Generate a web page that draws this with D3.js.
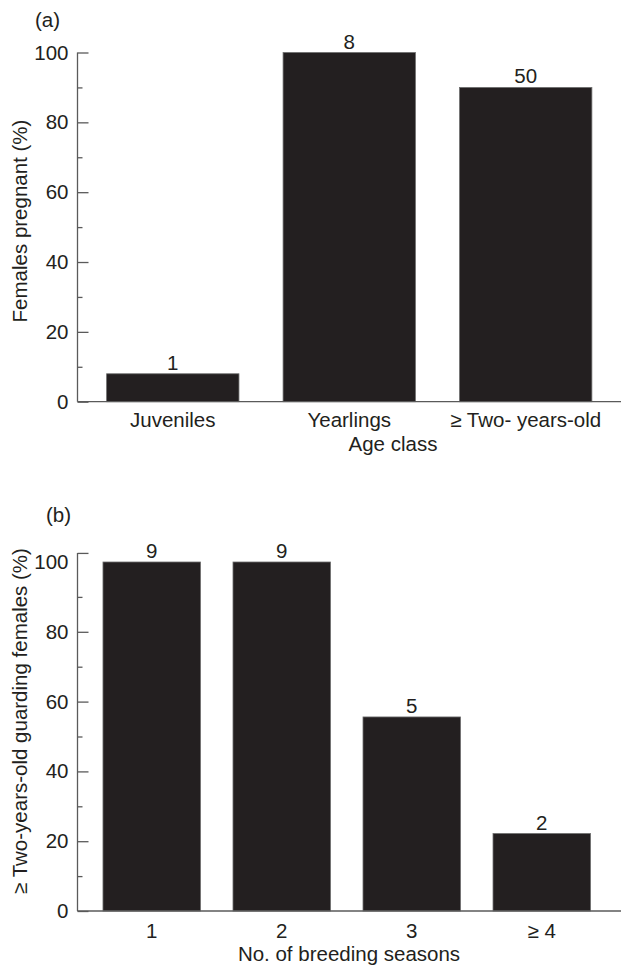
<!DOCTYPE html>
<html lang="en">
<head>
<meta charset="UTF-8">
<title>Pregnancy and guarding</title>
<script src="https://cdn.jsdelivr.net/npm/d3@7"></script>
<style>
  body { margin: 0; background: #fff; }
  svg text { font-family: "Liberation Sans", Arial, sans-serif; font-size: 20.5px; fill: #231f20; }
  .axis path, .axis line { stroke: #5a5a5a; stroke-width: 1.3; }
  .bar { fill: #231f20; stroke: #6e6e6e; stroke-width: 0.8; }
</style>
</head>
<body>
<script>
// panel (a)
const ageClasses = ["Juveniles", "Yearlings", "\u2265 Two- years-old"]
const pregnantPct = [8, 100, 90]
const pregnantN = [1, 8, 50]

// panel (b)
const seasons = ["1", "2", "3", "\u2265 4"]
const guardingPct = [100, 100, 55.6, 22.2]
const guardingN = [9, 9, 5, 2]

const majorTicks = [0, 20, 40, 60, 80, 100]
const minorTicks = [10, 30, 50, 70, 90]

const W = 621, H = 966
const svg = d3.select("body").append("svg").attr("width", W).attr("height", H)

function panel(opts) {
    const g = svg.append("g")
    const x = d3.scaleBand().domain(opts.cats).range(opts.xRange)
        .paddingInner(0.25).paddingOuter(opts.outer)
    const y = d3.scaleLinear().domain([0, 100]).range(opts.yRange)
    const axisX = opts.xRange[0]

    // minor ticks
    g.append("g").attr("class", "axis")
        .attr("transform", `translate(${axisX},0)`)
        .call(d3.axisLeft(y).tickValues(minorTicks).tickSize(-5).tickFormat(""))
        .call(s => s.select(".domain").remove())

    // major ticks + labels
    const ya = g.append("g").attr("class", "axis")
        .attr("transform", `translate(${axisX},0)`)
        .call(d3.axisLeft(y).tickValues(majorTicks).tickSize(-11).tickPadding(9))
    ya.select(".domain").remove()
    ya.selectAll("text").style("font-size", "20.5px").attr("fill", "#231f20")

    // axis line (may run a little past 100)
    const yTop = y(opts.axisTop)
    g.append("line")
        .attr("x1", axisX).attr("x2", axisX)
        .attr("y1", y(0)).attr("y2", yTop)
        .attr("stroke", "#5a5a5a").attr("stroke-width", 1.3)
    if (opts.axisTop !== 100) {
        ya.selectAll(".tick").filter(d => d === 100).select("line")
            .attr("transform", `translate(0,${yTop - y(100)})`)
    }

    // bars
    g.selectAll(".bar").data(opts.vals).join("rect")
        .attr("class", "bar")
        .attr("x", (d, i) => x(opts.cats[i]))
        .attr("width", x.bandwidth())
        .attr("y", d => y(d))
        .attr("height", d => y(0) - y(d))

    // sample sizes
    g.selectAll(".n").data(opts.ns).join("text")
        .attr("text-anchor", "middle")
        .attr("x", (d, i) => x(opts.cats[i]) + x.bandwidth() / 2)
        .attr("y", (d, i) => y(opts.vals[i]) - 4)
        .text(d => d)

    // baseline
    g.append("line")
        .attr("x1", axisX).attr("x2", W)
        .attr("y1", y(0)).attr("y2", y(0))
        .attr("stroke", "#5a5a5a").attr("stroke-width", 1.3)

    // category labels
    g.selectAll(".cat").data(opts.cats).join("text")
        .attr("text-anchor", "middle")
        .attr("x", d => x(d) + x.bandwidth() / 2)
        .attr("y", y(0) + opts.catDy)
        .text(d => d)

    g.append("text").attr("text-anchor", "middle")
        .attr("x", opts.xTitlePos[0]).attr("y", opts.xTitlePos[1])
        .text(opts.xTitle)

    g.append("text").attr("text-anchor", "middle")
        .attr("transform", `translate(${opts.yTitlePos[0]},${opts.yTitlePos[1]}) rotate(-90)`)
        .text(opts.yTitle)

    g.append("text").attr("x", opts.tagPos[0]).attr("y", opts.tagPos[1])
        .text(opts.tag)
}

panel({
    cats: ageClasses, vals: pregnantPct, ns: pregnantN,
    xRange: [77.5, 621], outer: 0.165, yRange: [401.7, 52.5], axisTop: 100,
    catDy: 25, xTitle: "Age class", xTitlePos: [393, 451],
    yTitle: "Females pregnant (%)", yTitlePos: [27, 221],
    tag: "(a)", tagPos: [35, 27]
})

panel({
    cats: seasons, vals: guardingPct, ns: guardingN,
    xRange: [77.5, 616], outer: 0.196, yRange: [911, 562], axisTop: 102.6,
    catDy: 27, xTitle: "No. of breeding seasons", xTitlePos: [349, 961],
    yTitle: "\u2265 Two-years-old guarding females (%)", yTitlePos: [27, 721],
    tag: "(b)", tagPos: [46, 522]
})
</script>
</body>
</html>
